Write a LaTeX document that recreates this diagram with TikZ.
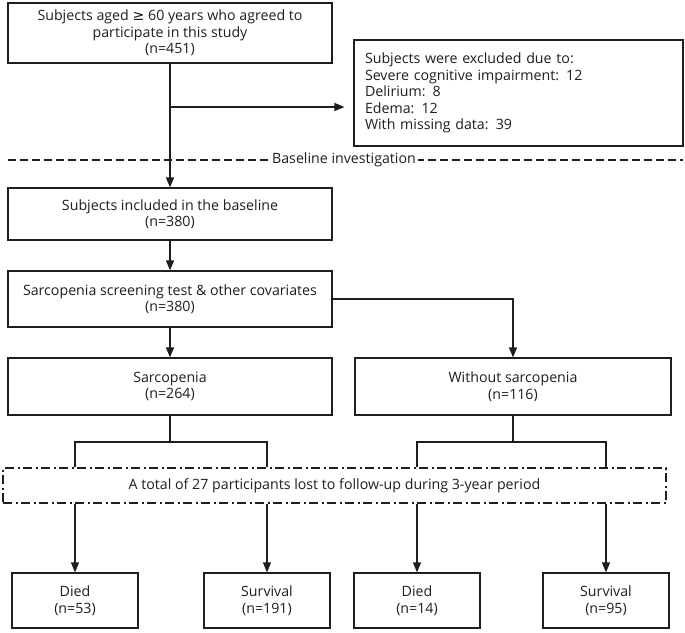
\documentclass[tikz,border=0pt]{standalone}
\usepackage{fontspec}
\setmainfont{Open Sans}
\newfontfamily\symfont{DejaVu Sans}
\usepackage{xcolor}
\usepackage{tikz}
\usetikzlibrary{arrows.meta}
\definecolor{ink}{HTML}{1E1E1E}
\definecolor{paper}{HTML}{FFFFFF}
\tikzset{
  box/.style={draw=ink, text=ink, line width=1.2pt, align=center, inner sep=0pt, font=\fontsize{14.2}{16.5}\selectfont},
  lossbox/.style={box, dash pattern=on 9pt off 3.5pt on 2pt off 3.5pt},
  link/.style={draw=ink, line width=1.2pt},
  arr/.style={link, -{Triangle[length=10pt,width=8pt]}},
  cut/.style={draw=ink, line width=1.2pt, dash pattern=on 8pt off 4pt},
  lab/.style={fill=paper, text=ink, inner xsep=2pt, inner ysep=1pt, font=\fontsize{14.2}{16.5}\selectfont},
}

\begin{document}
\begin{tikzpicture}[x=1pt,y=-1pt]
  \useasboundingbox (0,0) rectangle (685,632);
  % enrolment and exclusions
  \node[box, minimum width=324pt, minimum height=60pt] (enrol) at (170,33)
    {Subjects aged {\symfont ≥} 60 years who agreed to\\participate in this study\\(n=451)};
  \node[box, align=left, text width=307pt, inner xsep=11pt, minimum height=106pt] (excl) at (518.5,93)
    {Subjects were excluded due to:\\Severe cognitive impairment: 12\\Delirium: 8\\Edema: 12\\With missing data: 39};
  \coordinate (split) at (170,107);
  \draw[arr, shorten >=9pt] (split) -- (split -| excl.west);

  % baseline cut
  \coordinate (cutL) at (8,160);
  \coordinate (cutR) at (683,160);
  \draw[cut] (cutL) -- (cutR);
  \node[lab] (cutlab) at (344,160) {Baseline investigation};

  \node[box, minimum width=324pt, minimum height=52pt] (base) at (170,214)
    {Subjects included in the baseline\\(n=380)};
  \draw[arr] (enrol) -- (base);
  \node[box, minimum width=324pt, minimum height=56pt] (screen) at (170,299)
    {Sarcopenia screening test \& other covariates\\(n=380)};
  \draw[arr] (base) -- (screen);

  % groups
  \node[box, minimum width=324pt, minimum height=57pt] (sarc) at (170,386.5)
    {Sarcopenia\\(n=264)};
  \node[box, minimum width=316pt, minimum height=57pt] (nosarc) at (513,386.5)
    {Without sarcopenia\\(n=116)};
  \draw[arr] (screen) -- (sarc);
  \draw[arr] (screen.east) -| (nosarc.north);

  % follow-up
  \node[lossbox, minimum width=663pt, minimum height=35pt] (loss) at (334.5,485.5)
    {A total of 27 participants lost to follow-up during 3-year period};

  \node[box, minimum width=126pt, minimum height=55pt] (diedA) at (75,600.5) {Died\\(n=53)};
  \node[box, minimum width=126pt, minimum height=55pt] (survA) at (267,600.5) {Survival\\(n=191)};
  \node[box, minimum width=126pt, minimum height=55pt] (diedB) at (417,600.5) {Died\\(n=14)};
  \node[box, minimum width=126pt, minimum height=55pt] (survB) at (606,600.5) {Survival\\(n=95)};

  \coordinate (forkA) at (170,442);
  \coordinate (forkB) at (513,442);
  \draw[link] (sarc) -- (forkA);
  \draw[link] (nosarc) -- (forkB);
  \draw[link] (loss.north -| diedA) |- (forkA) -| (loss.north -| survA);
  \draw[link] (loss.north -| diedB) |- (forkB) -| (loss.north -| survB);

  \draw[arr] (loss.south -| diedA) -- (diedA);
  \draw[arr] (loss.south -| survA) -- (survA);
  \draw[arr] (loss.south -| diedB) -- (diedB);
  \draw[arr] (loss.south -| survB) -- (survB);
\end{tikzpicture}
\end{document}
